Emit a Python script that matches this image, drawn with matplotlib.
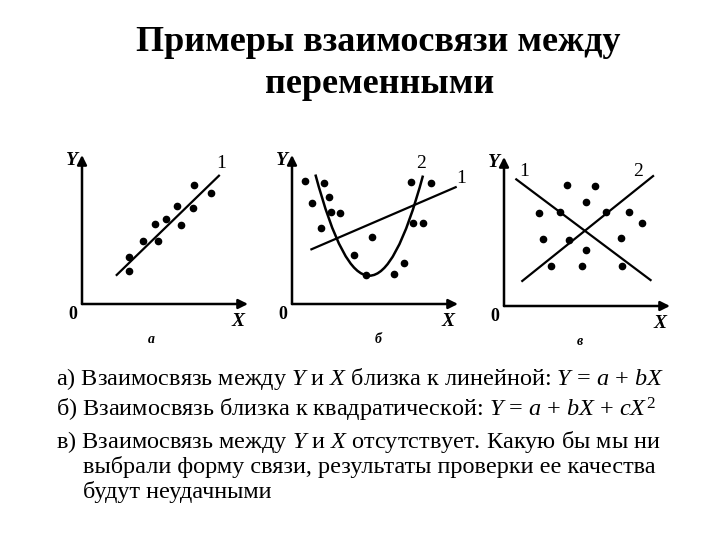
import matplotlib
matplotlib.use('Agg')
import matplotlib.pyplot as plt
from matplotlib.path import Path
from matplotlib.patches import PathPatch

plt.rcParams['font.family'] = ['Liberation Serif', 'DejaVu Serif']
plt.rcParams['mathtext.fontset'] = 'custom'
plt.rcParams['mathtext.rm'] = 'Liberation Serif'
plt.rcParams['mathtext.it'] = 'Liberation Serif:italic'

# panel а - close to linear
a_x = [2.83, 2.83, 3.67, 4.60, 4.38, 5.04, 5.95, 5.71, 6.71, 6.77, 7.77]
a_y = [3.13, 2.21, 4.24, 4.24, 5.35, 5.72, 5.30, 6.60, 6.44, 7.96, 7.45]
a_line_x = [2.09, 8.25]
a_line_y = [1.95, 8.61]

# panel б - close to quadratic
b_x = [0.81, 1.92, 1.21, 2.20, 2.34, 2.90, 1.74, 4.81, 3.74, 4.45, 6.12, 6.76, 7.16, 8.37, 7.28, 7.92]
b_y = [8.28, 8.13, 6.76, 7.16, 6.19, 6.10, 5.07, 4.50, 3.26, 1.94, 2.03, 2.78, 8.18, 8.13, 5.45, 5.45]
b_line_x = [1.17, 9.86]
b_line_y = [3.67, 7.84]
# parabola as a quadratic Bezier: start, control, end
b_curve = [(1.41, 8.69), (4.65, -4.86), (7.89, 8.62)]

# panel в - no relationship
c_x = [3.80, 5.51, 4.96, 2.12, 3.39, 6.13, 7.54, 8.30, 2.32, 3.93, 7.03, 4.93, 2.84, 4.68, 7.11]
c_y = [8.14, 8.07, 6.98, 6.26, 6.31, 6.31, 6.29, 5.59, 4.50, 4.43, 4.56, 3.76, 2.70, 2.68, 2.68]
c_line1_x = [0.74, 8.83]
c_line1_y = [8.50, 1.74]
c_line2_x = [1.10, 8.98]
c_line2_y = [1.68, 8.72]

title_lines = ['Примеры взаимосвязи между', 'переменными']
notes = [
    'а) Взаимосвязь между $Y$ и $X$ близка к линейной: $Y$ = $a$ + $bX$',
    'б) Взаимосвязь близка к квадратической: $Y$ = $a$ + $bX$ + $cX^2$',
    'в) Взаимосвязь между $Y$ и $X$ отсутствует. Какую бы мы ни',
    'выбрали форму связи, результаты проверки ее качества',
    'будут неудачными',
]

W, H = 720, 540
fig = plt.figure(figsize=(7.2, 5.4), dpi=100)


def make_panel(ox, oy, letter, letter_x):
    ax = fig.add_axes([ox / W, (H - oy) / H, 166 / W, 149 / H])
    ax.set_xlim(0, 10)
    ax.set_ylim(0, 10)
    ax.axis('off')
    arrow = dict(arrowstyle='-|>', color='black', lw=1.8, mutation_scale=14,
                 shrinkA=0, shrinkB=0)
    ax.annotate('', xy=(10, 0), xytext=(0, 0), arrowprops=arrow, annotation_clip=False)
    ax.annotate('', xy=(0, 10), xytext=(0, 0), arrowprops=arrow, annotation_clip=False)
    ax.text(-0.6, 9.6, 'Y', fontsize=14, fontstyle='italic', fontweight='bold',
            ha='center', va='center')
    ax.text(9.4, -1.15, 'X', fontsize=14, fontstyle='italic', fontweight='bold',
            ha='center', va='center')
    ax.text(-0.55, -0.7, '0', fontsize=13, fontweight='bold', ha='center', va='center')
    ax.text(letter_x, -2.4, letter, fontsize=10, fontstyle='italic', fontweight='bold',
            ha='center', va='center')
    return ax


ax1 = make_panel(82, 304, 'а', 4.2)
ax1.plot(a_line_x, a_line_y, color='black', lw=1.6, clip_on=False)
ax1.plot(a_x, a_y, 'o', color='black', ms=4.5, clip_on=False)
ax1.text(8.36, 9.45, '1', fontsize=14, ha='center', va='center')

ax2 = make_panel(292, 304, 'б', 5.2)
ax2.plot(b_line_x, b_line_y, color='black', lw=1.6, clip_on=False)
curve = Path(b_curve, [Path.MOVETO, Path.CURVE3, Path.CURVE3])
ax2.add_patch(PathPatch(curve, facecolor='none', edgecolor='black', lw=1.8, clip_on=False))
ax2.plot(b_x, b_y, 'o', color='black', ms=4.5, clip_on=False)
ax2.text(10.2, 8.4, '1', fontsize=14, ha='center', va='center')
ax2.text(7.8, 9.4, '2', fontsize=14, ha='center', va='center')

ax3 = make_panel(504, 306, 'в', 4.55)
ax3.plot(c_line1_x, c_line1_y, color='black', lw=1.6, clip_on=False)
ax3.plot(c_line2_x, c_line2_y, color='black', lw=1.6, clip_on=False)
ax3.plot(c_x, c_y, 'o', color='black', ms=4.5, clip_on=False)
ax3.text(1.24, 9.0, '1', fontsize=14, ha='center', va='center')
ax3.text(8.07, 9.0, '2', fontsize=14, ha='center', va='center')

# title
fig.text(378 / W, 1 - 51 / H, title_lines[0], fontsize=26, fontweight='bold',
         ha='center', va='baseline')
fig.text(380 / W, 1 - 93 / H, title_lines[1], fontsize=26, fontweight='bold',
         ha='center', va='baseline')

# notes below
note_pos = [(56, 385), (56, 416), (56, 448), (83, 473), (83, 498)]
for (px, py), line in zip(note_pos, notes):
    fig.text(px / W, 1 - py / H, line, fontsize=17.5, ha='left', va='baseline')

fig.savefig('out.png', dpi=100)
